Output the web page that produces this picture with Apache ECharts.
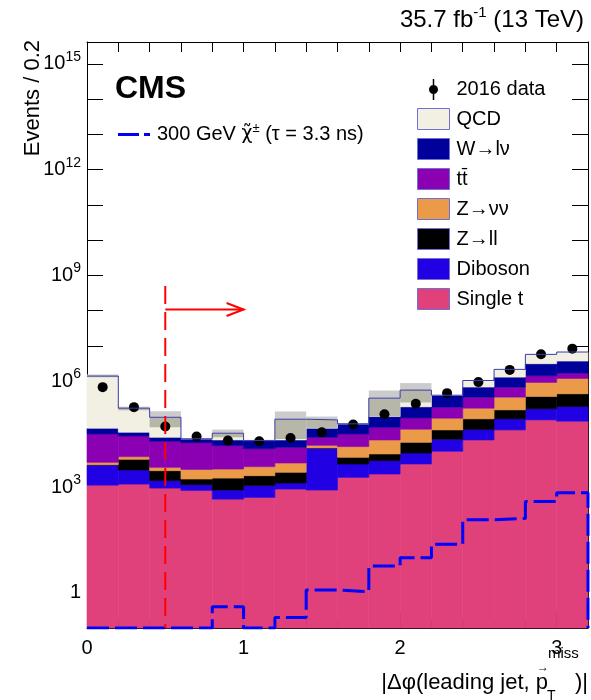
<!DOCTYPE html>
<html>
<head>
<meta charset="utf-8">
<script src="https://cdn.jsdelivr.net/npm/echarts@6/dist/echarts.min.js"></script>
<style>
  html, body { margin: 0; padding: 0; background: #ffffff; }
  #chart { width: 591px; height: 700px; }
</style>
</head>
<body>
<div id="chart"></div>
<script>
// bin edges of |dphi(leading jet, ptmiss)|, width 0.2
var binEdges = [0, 0.2, 0.4, 0.6, 0.8, 1.0, 1.2, 1.4, 1.6, 1.8, 2.0, 2.2, 2.4, 2.6, 2.8, 3.0, 3.2];

// backgrounds, bottom of the stack first
var singleT = [1130, 1210, 932, 800, 453, 505, 873, 817, 1870, 2330, 4490, 10300, 21600, 41600, 80000, 73400];
var diboson = [3070, 1820, 578, 360, 364, 585, 417, 11900, 2620, 3250, 4710, 12300, 20900, 44000, 85000, 118600];
var zll = [60, 3060, 1390, 520, 973, 1000, 1310, 100, 2460, 3060, 9300, 19000, 43100, 68400, 205000, 248000];
var znn = [740, 1170, 710, 1480, 1440, 1680, 2190, 2400, 7050, 12960, 25000, 47800, 86400, 200000, 555000, 760000];
var ttbar = [27000, 20840, 16190, 14940, 11670, 8430, 8610, 10500, 18000, 27900, 47900, 94600, 182000, 327000, 505000, 500000];
var wlnu = [14400, 7600, 5900, 5000, 6700, 8500, 8200, 20700, 29700, 50100, 96600, 211000, 327000, 629000, 1710000, 2040000];
var qcd = [1354000, 136300, 69300, 200, 11900, 200, 62100, 33600, 300, 231400, 372000, 5000, 369000, 860000, 2640000, 3000000];

// background uncertainty band (null = not visible)
var bandLow = [1300000, 150000, 49500, null, 25700, null, 23100, 47500, null, 99600, 250000, null, null, null, null, null];
var bandHigh = [1560000, 190000, 141000, null, 42500, null, 138000, 99600, null, 547000, 885000, null, null, null, null, null];

var dataObs = [680000, 184000, 51800, 26900, 20700, 19800, 24600, 35700, 59000, 116000, 229000, 460000, 945000, 2100000, 5800000, 8400000];
var signal = [0, 0, 0, 0, 0.40, 0, 0.20, 1.19, 1.07, 5.75, 9.9, 23.8, 117, 128, 389, 686];

// selection cut
var cutX = 0.5;
var cutTop = 5e8;
var arrowTipX = 1.0;
var arrowY = 1.08e8;

var yLabelExps = [0, 3, 6, 9, 12, 15];
var xLabels = [0, 1, 2, 3];

var yMin = 0.1;
var yMax = 4.2e15;
var FONT = '"Liberation Sans", Arial, sans-serif';

var components = [
  { name: "Single t", values: singleT, color: "#e0417a" },
  { name: "Diboson", values: diboson, color: "#2200e4" },
  { name: "Z→ll", values: zll, color: "#000000" },
  { name: "Z→νν", values: znn, color: "#ea9a48" },
  { name: "tt\u0304", values: ttbar, color: "#8a00b2" },
  { name: "W→lν", values: wlnu, color: "#00009a" },
  { name: "QCD", values: qcd, color: "#f1f0e3" },
];

function clipToGrid(rect, params) {
  return echarts.graphic.clipRectByRect(rect, {
    x: params.coordSys.x,
    y: params.coordSys.y,
    width: params.coordSys.width,
    height: params.coordSys.height,
  });
}

function rectBetween(api, params, x0, x1, lo, hi) {
  var p0 = api.coord([x0, hi]);
  var p1 = api.coord([x1, lo]);
  return clipToGrid(
    { x: p0[0], y: p0[1], width: p1[0] - p0[0], height: p1[1] - p0[1] },
    params
  );
}

// build stacked rectangles
var series = [];
var cumulative = binEdges.slice(0, -1).map(function () {
  return 0;
});
components.forEach(function (c) {
  var items = c.values.map(function (v, i) {
    var lo = cumulative[i];
    var hi = lo + v;
    cumulative[i] = hi;
    return [binEdges[i], binEdges[i + 1], Math.max(lo, yMin), hi];
  });
  series.push({
    type: "custom",
    name: c.name,
    itemStyle: { color: c.color },
    encode: { x: [0, 1], y: [2, 3] },
    renderItem: function (params, api) {
      var r = rectBetween(api, params, api.value(0), api.value(1), api.value(2), api.value(3));
      if (!r) return null;
      return {
        type: "rect",
        shape: r,
        style: { fill: c.color, stroke: c.color, lineWidth: 0.6 },
      };
    },
    data: items,
  });
});
var totals = cumulative;

// uncertainty band
var bandItems = [];
bandLow.forEach(function (lo, i) {
  if (lo === null) return;
  bandItems.push([binEdges[i], binEdges[i + 1], lo, bandHigh[i], totals[i]]);
});
series.push({
  type: "custom",
  name: "band",
  encode: { x: [0, 1], y: [2, 3] },
  renderItem: function (params, api) {
    var x0 = api.value(0), x1 = api.value(1);
    var lo = api.value(2), hi = api.value(3), tot = api.value(4);
    var children = [];
    var under = rectBetween(api, params, x0, x1, lo, Math.min(tot, hi));
    if (under) children.push({ type: "rect", shape: under, style: { fill: "#b6b6a9" } });
    var over = rectBetween(api, params, x0, x1, tot, hi);
    if (over) children.push({ type: "rect", shape: over, style: { fill: "#cbcbcb" } });
    return { type: "group", children: children };
  },
  data: bandItems,
});

// outline of the full stack
var outline = totals.map(function (t, i) {
  return [binEdges[i], t];
});
outline.push([binEdges[binEdges.length - 1], totals[totals.length - 1]]);
series.push({
  type: "line",
  name: "outline",
  step: "end",
  symbol: "none",
  silent: true,
  lineStyle: { color: "#3c3caa", width: 1 },
  data: outline,
});

// signal
var signalName = "300 GeV χ̃± (τ = 3.3 ns)";
var sigLine = signal.map(function (s, i) {
  return [binEdges[i], Math.max(s, yMin)];
});
sigLine.push([binEdges[binEdges.length - 1], Math.max(signal[signal.length - 1], yMin)]);
sigLine.push([binEdges[binEdges.length - 1], yMin]);
series.push({
  type: "line",
  name: signalName,
  step: "end",
  symbol: "none",
  lineStyle: { color: "#0000ff", width: 3, type: [22, 6] },
  itemStyle: { color: "#0000ff" },
  data: sigLine,
});

// data points
series.push({
  type: "scatter",
  name: "2016 data",
  symbol: "circle",
  symbolSize: 10,
  itemStyle: { color: "#000000", opacity: 1 },
  data: dataObs.map(function (d, i) {
    return [(binEdges[i] + binEdges[i + 1]) / 2, d];
  }),
});

// cut line and arrow
series.push({
  type: "line",
  name: "cut",
  symbol: "none",
  silent: true,
  lineStyle: { color: "#ff0000", width: 2, type: [18, 8] },
  data: [
    [cutX, cutTop],
    [cutX, yMin],
  ],
});
series.push({
  type: "custom",
  name: "arrow",
  silent: true,
  renderItem: function (params, api) {
    var a = api.coord([api.value(0), api.value(2)]);
    var b = api.coord([api.value(1), api.value(2)]);
    var st = { stroke: "#ff0000", lineWidth: 2, fill: null };
    return {
      type: "group",
      children: [
        { type: "line", shape: { x1: a[0], y1: a[1], x2: b[0], y2: b[1] }, style: st },
        {
          type: "polyline",
          shape: { points: [[b[0] - 17, b[1] - 6.5], [b[0], b[1]], [b[0] - 17, b[1] + 6.5]] },
          style: st,
        },
      ],
    };
  },
  data: [[cutX, arrowTipX, arrowY]],
});

function yLabel(v) {
  var e = Math.round(Math.log10(v));
  if (Math.abs(Math.log10(v) - e) > 0.01) return "";
  if (yLabelExps.indexOf(e) < 0) return "";
  if (e === 0) return "{b|1}";
  return "{b|10}{s|" + e + "}";
}

function xLabel(v) {
  var r = Math.round(v);
  if (Math.abs(v - r) > 1e-6 || xLabels.indexOf(r) < 0) return "";
  return String(r);
}

var line = { color: "#000", width: 1 };

var option = {
  animation: false,
  backgroundColor: "#ffffff",
  grid: { left: 87, right: 2, top: 42, bottom: 72 },
  xAxis: [
    {
      type: "value",
      min: 0,
      max: 3.2,
      interval: 1,
      position: "bottom",
      axisLine: { onZero: false, lineStyle: line },
      axisTick: { inside: true, length: 17, lineStyle: line },
      axisLabel: {
        formatter: xLabel,
        fontFamily: FONT,
        fontSize: 20,
        color: "#000",
        margin: 10,
      },
      splitLine: { show: false },
    },
    {
      type: "value",
      min: 0,
      max: 3.2,
      interval: 0.2,
      position: "bottom",
      axisLine: { show: false, onZero: false },
      axisTick: { inside: true, length: 9, lineStyle: line },
      axisLabel: { show: false },
      splitLine: { show: false },
    },
    {
      type: "value",
      min: 0,
      max: 3.2,
      interval: 0.2,
      position: "top",
      axisLine: { onZero: false, lineStyle: line },
      axisTick: { inside: true, length: 10, lineStyle: line },
      axisLabel: { show: false },
      splitLine: { show: false },
    },
  ],
  yAxis: [
    {
      type: "log",
      logBase: 10,
      min: yMin,
      max: yMax,
      interval: 1,
      position: "left",
      axisLine: { onZero: false, lineStyle: line },
      axisTick: { inside: true, length: 16, lineStyle: line },
      axisLabel: {
        formatter: yLabel,
        margin: 6,
        rich: {
          b: { fontFamily: FONT, fontSize: 20, color: "#000" },
          s: { fontFamily: FONT, fontSize: 14, color: "#000", padding: [0, 0, 14, 0] },
        },
      },
      splitLine: { show: false },
    },
    {
      type: "log",
      logBase: 10,
      min: yMin,
      max: yMax,
      interval: 1,
      position: "right",
      axisLine: { onZero: false, lineStyle: line },
      axisTick: { inside: true, length: 16, lineStyle: line },
      axisLabel: { show: false },
      splitLine: { show: false },
    },
  ],
  legend: [
    {
      orient: "vertical",
      left: 417,
      top: 79,
      padding: 0,
      itemWidth: 32,
      itemHeight: 21,
      itemGap: 8,
      icon: "rect",
      selectedMode: false,
      itemStyle: { borderColor: "#7070d2", borderWidth: 1 },
      textStyle: { fontFamily: FONT, fontSize: 20, color: "#000", lineHeight: 21, padding: [0, 0, 0, 2] },
      data: [
        {
          name: "2016 data",
          icon: "path://M3.75,0 L5.25,0 L5.25,21 L3.75,21 Z M9,10.5 A4.5,4.5 0 1 1 0,10.5 A4.5,4.5 0 1 1 9,10.5 Z",
          itemStyle: { borderWidth: 0, color: "#000000", opacity: 1 },
        },
        "QCD",
        "W→lν",
        "tt\u0304",
        "Z→νν",
        "Z→ll",
        "Diboson",
        "Single t",
      ],
    },
    {
      left: 118,
      top: 122,
      padding: 0,
      itemWidth: 32,
      itemHeight: 3,
      selectedMode: false,
      icon: "path://M0,0 L21,0 L21,3 L0,3 Z M26,0 L32,0 L32,3 L26,3 Z",
      itemStyle: { color: "#0000ff", borderWidth: 0 },
      data: [signalName],
      formatter: function () {
        return "{b|300 GeV }{c|χ\u0303}{s|±}{b| (τ = 3.3 ns)}";
      },
      textStyle: {
        fontFamily: FONT,
        fontSize: 20,
        color: "#000",
        padding: [0, 0, 0, 2],
        rich: {
          b: { fontFamily: FONT, fontSize: 20, color: "#000" },
          c: { fontFamily: '"DejaVu Sans"', fontSize: 19, color: "#000" },
          s: { fontFamily: FONT, fontSize: 13, color: "#000", padding: [0, 0, 12, 0] },
        },
      },
    },
  ],
  graphic: [
    {
      type: "text",
      x: 584,
      y: 20,
      style: {
        text: "{b|35.7 fb}{s|-1}{b| (13 TeV)}",
        align: "right",
        verticalAlign: "middle",
        rich: {
          b: { fontFamily: FONT, fontSize: 24, fill: "#000" },
          s: { fontFamily: FONT, fontSize: 15, fill: "#000", padding: [0, 0, 14, 0] },
        },
      },
    },
    {
      type: "text",
      x: 115,
      y: 89,
      style: {
        text: "CMS",
        fontFamily: FONT,
        fontSize: 32,
        fontWeight: "bold",
        fill: "#000",
        align: "left",
        verticalAlign: "middle",
      },
    },
    {
      type: "text",
      x: 33,
      y: 40,
      rotation: Math.PI / 2,
      style: {
        text: "Events / 0.2",
        fontFamily: FONT,
        fontSize: 22,
        fill: "#000",
        align: "right",
        verticalAlign: "middle",
      },
    },
    // x axis title, pieced together: |Δφ(leading jet, p_T^miss)|
    {
      type: "text",
      x: 548,
      y: 683,
      style: {
        text: "|Δφ(leading jet, p",
        fontFamily: FONT,
        fontSize: 22,
        fill: "#000",
        align: "right",
        verticalAlign: "middle",
      },
    },
    {
      type: "text",
      x: 543,
      y: 668,
      style: { text: "→", fontFamily: FONT, fontSize: 12, fill: "#000", align: "center", verticalAlign: "middle" },
    },
    {
      type: "text",
      x: 547,
      y: 696,
      style: { text: "T", fontFamily: FONT, fontSize: 14, fill: "#000", align: "left", verticalAlign: "middle" },
    },
    {
      type: "text",
      x: 548,
      y: 654,
      style: { text: "miss", fontFamily: FONT, fontSize: 15, fill: "#000", align: "left", verticalAlign: "middle" },
    },
    {
      type: "text",
      x: 588,
      y: 683,
      style: { text: ")|", fontFamily: FONT, fontSize: 22, fill: "#000", align: "right", verticalAlign: "middle" },
    },
  ],
  series: series,
};

var myChart = echarts.init(document.getElementById("chart"));
myChart.setOption(option);
</script>
</body>
</html>
